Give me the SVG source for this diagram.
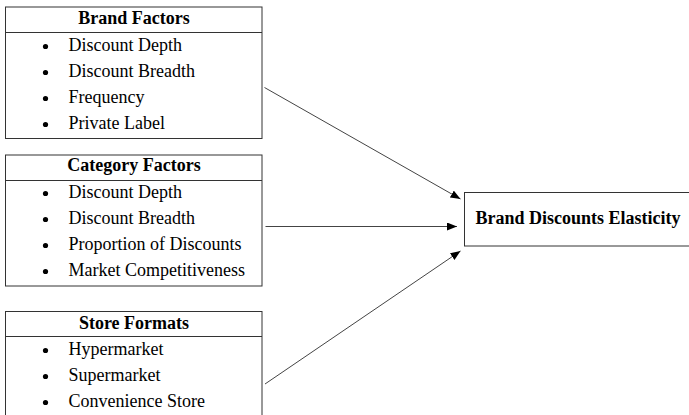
<svg xmlns="http://www.w3.org/2000/svg" width="689" height="415" viewBox="0 0 689 415">
<style>
.box{fill:#fff;stroke:#333;stroke-width:1}
.div{stroke:#333;stroke-width:1}
.h{font-family:"Liberation Serif","Times New Roman",serif;font-weight:bold;font-size:18px;fill:#000;text-anchor:middle}
.t{font-family:"Liberation Serif","Times New Roman",serif;font-size:18px;fill:#000}
.b{fill:#000}
.c{stroke:#444;stroke-width:1;fill:none;marker-end:url(#ah)}
</style>
<defs>
<marker id="ah" markerUnits="userSpaceOnUse" markerWidth="11" markerHeight="9" refX="10" refY="4" orient="auto">
<path d="M0,0 L10,4 L0,8 z" fill="#000"/>
</marker>
</defs>
<g id="brand-factors">
<rect class="box" x="5.5" y="7" width="256.5" height="131.5"/>
<line class="div" x1="5.5" y1="32.5" x2="262" y2="32.5"/>
<text class="h" x="134" y="24">Brand Factors</text>
<circle class="b" cx="45.5" cy="46.5" r="2.6"/><text class="t" x="68.5" y="51">Discount Depth</text>
<circle class="b" cx="45.5" cy="72.5" r="2.6"/><text class="t" x="68.5" y="77">Discount Breadth</text>
<circle class="b" cx="45.5" cy="98.5" r="2.6"/><text class="t" x="68.5" y="103">Frequency</text>
<circle class="b" cx="45.5" cy="124.5" r="2.6"/><text class="t" x="68.5" y="129">Private Label</text>
</g>
<g id="category-factors">
<rect class="box" x="5.5" y="155" width="256.5" height="131"/>
<line class="div" x1="5.5" y1="180.5" x2="262" y2="180.5"/>
<text class="h" x="134" y="171">Category Factors</text>
<circle class="b" cx="45.5" cy="193.5" r="2.6"/><text class="t" x="68.5" y="198">Discount Depth</text>
<circle class="b" cx="45.5" cy="219.5" r="2.6"/><text class="t" x="68.5" y="224">Discount Breadth</text>
<circle class="b" cx="45.5" cy="245.5" r="2.6"/><text class="t" x="68.5" y="250">Proportion of Discounts</text>
<circle class="b" cx="45.5" cy="271.5" r="2.6"/><text class="t" x="68.5" y="276">Market Competitiveness</text>
</g>
<g id="store-formats">
<rect class="box" x="5.5" y="311.5" width="256.5" height="120"/>
<line class="div" x1="5.5" y1="336.5" x2="262" y2="336.5"/>
<text class="h" x="134" y="328.5">Store Formats</text>
<circle class="b" cx="45.5" cy="350.5" r="2.6"/><text class="t" x="68.5" y="355">Hypermarket</text>
<circle class="b" cx="45.5" cy="376.5" r="2.6"/><text class="t" x="68.5" y="381">Supermarket</text>
<circle class="b" cx="45.5" cy="402.5" r="2.6"/><text class="t" x="68.5" y="407">Convenience Store</text>
</g>
<g id="brand-discounts-elasticity">
<rect class="box" x="464.5" y="192.5" width="240" height="53.5"/>
<text class="h" x="578" y="223.5">Brand Discounts Elasticity</text>
</g>
<g id="connectors">
<line class="c" x1="264.5" y1="87.5" x2="460.5" y2="199"/>
<line class="c" x1="265.5" y1="226.5" x2="457" y2="226.5"/>
<line class="c" x1="265" y1="384" x2="460.5" y2="251"/>
</g>
</svg>
